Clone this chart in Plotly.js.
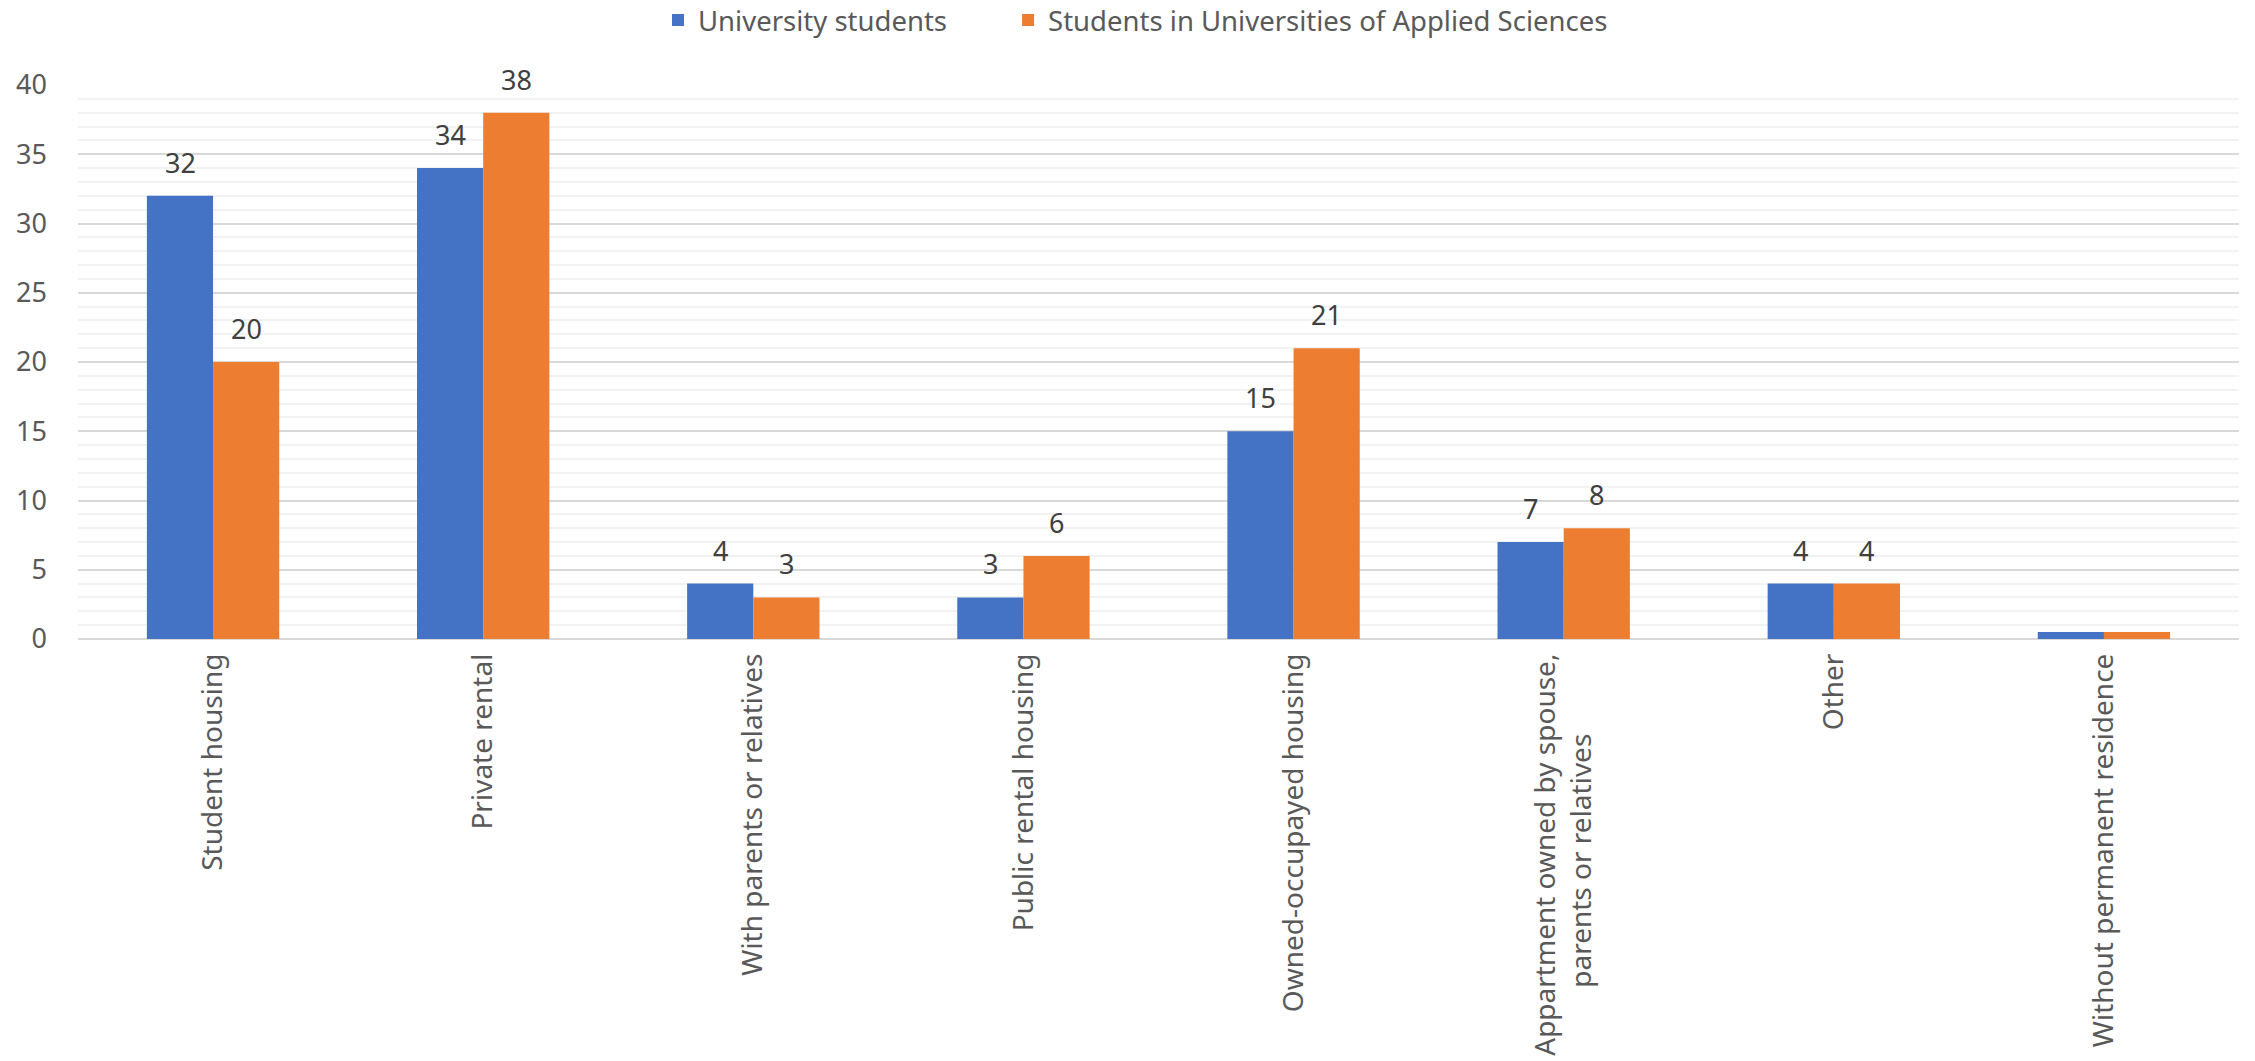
<!DOCTYPE html>
<html>
<head>
<meta charset="utf-8">
<script src="https://cdn.plot.ly/plotly-3.0.1.min.js"></script>
<style>html,body{margin:0;padding:0;background:#fff;}#chart{width:2255px;height:1061px;}</style>
</head>
<body>
<div id="chart"></div>
<script>
const categories = [
  "Student housing",
  "Private rental",
  "With parents or relatives",
  "Public rental housing",
  "Owned-occupayed housing",
  "Appartment owned by spouse,<br>parents or relatives\u00A0\u00A0\u00A0\u00A0\u00A0\u00A0\u00A0\u00A0\u00A0\u00A0\u00A0",
  "Other",
  "Without permanent residence"
];
const seriesNames = ["University students", "Students in Universities of Applied Sciences"];
const universityStudents = [32, 34, 4, 3, 15, 7, 4, 0.5];
const uasStudents = [20, 38, 3, 6, 21, 8, 4, 0.5];
const universityLabels = ["32", "34", "4", "3", "15", "7", "4", ""];
const uasLabels = ["20", "38", "3", "6", "21", "8", "4", ""];
const yTickValues = [0, 5, 10, 15, 20, 25, 30, 35, 40];

const colors = ["#4472C4", "#ED7D31"];
const FONT = "Noto Sans, Open Sans, sans-serif";

const traces = [
  {type: "bar", name: seriesNames[0], x: categories, y: universityStudents,
   marker: {color: colors[0]}, hoverinfo: "none", legend: "legend"},
  {type: "bar", name: seriesNames[1], x: categories, y: uasStudents,
   marker: {color: colors[1]}, hoverinfo: "none", legend: "legend2"}
];

const annotations = [];
function addLabels(values, labels, shift) {
  values.forEach((v, i) => {
    if (!labels[i]) return;
    annotations.push({
      x: categories[i], y: v, xref: "x", yref: "y",
      text: labels[i], showarrow: false,
      xshift: shift, yshift: 13, yanchor: "bottom",
      font: {family: FONT, size: 27, color: "#404040"}
    });
  });
}
addLabels(universityStudents, universityLabels, -33);
addLabels(uasStudents, uasLabels, 33);

const legendFont = {family: FONT, size: 27.5, color: "#595959"};

const layout = {
  width: 2255, height: 1061,
  margin: {l: 78, r: 16, t: 85, b: 422, autoexpand: false},
  paper_bgcolor: "#fff", plot_bgcolor: "#fff",
  font: {family: FONT, size: 24, color: "#595959"},
  barmode: "group", bargap: 0.51, bargroupgap: 0,
  showlegend: true,
  legend: {orientation: "h", x: 0.2684, xanchor: "left", y: 1.117, yanchor: "middle",
           font: legendFont, itemwidth: 30},
  legend2: {orientation: "h", x: 0.4304, xanchor: "left", y: 1.117, yanchor: "middle",
           font: legendFont, itemwidth: 30},
  xaxis: {type: "category", tickangle: -90, showgrid: false, zeroline: false,
          showline: false, ticks: "", ticklabelstandoff: 8,
          tickfont: {family: FONT, size: 28, color: "#595959"}},
  yaxis: {range: [0, 40], tickvals: yTickValues, ticktext: yTickValues.map(String),
          showgrid: true, gridcolor: "#d9d9d9", gridwidth: 2,
          zeroline: true, zerolinecolor: "#d9d9d9", zerolinewidth: 2,
          showline: false, ticks: "", ticklabelstandoff: 30,
          minor: {dtick: 1, showgrid: true, gridcolor: "#f2f2f2", gridwidth: 2},
          tickfont: {family: FONT, size: 27, color: "#595959"}},
  annotations: annotations
};

Plotly.newPlot("chart", traces, layout, {displayModeBar: false, staticPlot: true});
</script>
</body>
</html>
